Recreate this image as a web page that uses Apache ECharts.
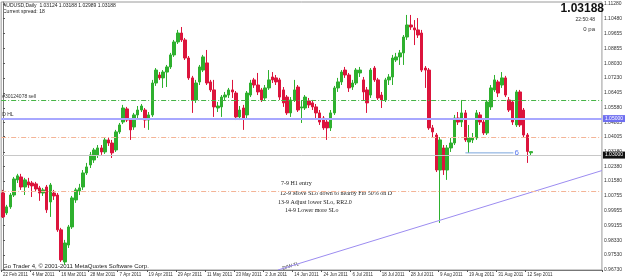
<!DOCTYPE html>
<html>
<head>
<meta charset="utf-8">
<script src="https://cdn.jsdelivr.net/npm/echarts@6/dist/echarts.min.js"></script>
<style>
  html, body { margin: 0; padding: 0; background: #fff; }
  #chart { width: 625px; height: 279px; }
</style>
</head>
<body>
<div id="chart"></div>
<script>
// AUDUSD daily, 22 Feb 2011 .. 13 Sep 2011 (one entry per bar)
var opens = [1.0092,0.9983,1.0016,1.0081,1.0164,1.0180,1.0125,1.0153,1.0147,1.0142,1.0120,1.0092,1.0125,1.0043,1.0092,1.0081,0.9890,0.9714,0.9807,0.9906,
  1.0054,1.0103,1.0125,1.0202,1.0246,1.0273,1.0301,1.0339,1.0317,1.0383,1.0366,1.0328,1.0427,1.0481,1.0553,1.0492,1.0454,1.0520,1.0547,1.0547,
  1.0492,1.0520,1.0695,1.0739,1.0723,1.0755,1.0783,1.0849,1.0920,1.0969,1.0931,1.0832,1.0723,1.0602,1.0701,1.0766,1.0805,1.0701,1.0657,1.0558,
  1.0564,1.0618,1.0629,1.0657,1.0640,1.0509,1.0558,1.0520,1.0629,1.0712,1.0684,1.0657,1.0613,1.0668,1.0728,1.0723,1.0712,1.0657,1.0618,1.0531,
  1.0602,1.0673,1.0558,1.0558,1.0597,1.0586,1.0564,1.0531,1.0503,1.0481,1.0449,1.0531,1.0668,1.0701,1.0766,1.0739,1.0673,1.0695,1.0750,1.0712,
  1.0657,1.0629,1.0777,1.0712,1.0629,1.0602,1.0712,1.0728,1.0821,1.0838,1.0860,1.0947,1.1013,1.0997,1.0986,1.0969,1.0777,1.0766,1.0449,1.0410,
  1.0218,1.0339,1.0218,1.0339,1.0366,1.0503,1.0481,1.0531,1.0372,1.0383,1.0394,1.0520,1.0481,1.0421,1.0564,1.0657,1.0701,1.0684,1.0723,1.0602,
  1.0591,1.0465,1.0646,1.0547,1.0410,1.03124];
var closes = [0.9961,1.0016,1.0081,1.0169,1.0186,1.0125,1.0164,1.0136,1.0131,1.0114,1.0092,1.0109,1.0000,1.0136,1.0076,0.9890,0.9725,0.9818,0.9906,1.0065,
  1.0109,1.0120,1.0202,1.0235,1.0301,1.0328,1.0339,1.0317,1.0383,1.0366,1.0312,1.0427,1.0465,1.0558,1.0492,1.0438,1.0520,1.0547,1.0569,1.0492,
  1.0520,1.0695,1.0766,1.0723,1.0755,1.0783,1.0849,1.0920,1.0969,1.0931,1.0832,1.0723,1.0602,1.0695,1.0783,1.0838,1.0695,1.0657,1.0564,1.0569,
  1.0618,1.0629,1.0657,1.0646,1.0509,1.0547,1.0503,1.0640,1.0695,1.0684,1.0646,1.0602,1.0668,1.0712,1.0712,1.0701,1.0618,1.0586,1.0531,1.0602,
  1.0657,1.0547,1.0564,1.0618,1.0575,1.0564,1.0531,1.0481,1.0449,1.0449,1.0531,1.0668,1.0701,1.0755,1.0739,1.0668,1.0695,1.0766,1.0766,1.0646,
  1.0586,1.0766,1.0712,1.0613,1.0602,1.0712,1.0728,1.0832,1.0838,1.0860,1.0947,1.1013,1.1002,1.0986,1.0958,1.0766,1.0766,1.0449,1.0427,1.0218,
  1.0383,1.0218,1.0339,1.0366,1.0503,1.0481,1.0531,1.0383,1.0394,1.0394,1.0531,1.0481,1.0421,1.0591,1.0668,1.0712,1.0640,1.0723,1.0629,1.0547,
  1.0481,1.0646,1.0465,1.0410,1.0320,1.03188];
var highs = [1.0109,1.0027,1.0092,1.0180,1.0197,1.0197,1.0175,1.0175,1.0158,1.0153,1.0131,1.0120,1.0136,1.0147,1.0109,1.0092,0.9901,0.9835,0.9917,1.0076,
  1.0120,1.0142,1.0218,1.0257,1.0317,1.0339,1.0355,1.0355,1.0394,1.0399,1.0383,1.0438,1.0476,1.0575,1.0564,1.0503,1.0531,1.0569,1.0580,1.0558,
  1.0536,1.0712,1.0777,1.0755,1.0766,1.0794,1.0860,1.0931,1.0986,1.1002,1.0942,1.0843,1.0734,1.0712,1.0794,1.0849,1.0876,1.0712,1.0712,1.0591,
  1.0629,1.0646,1.0668,1.0712,1.0651,1.0569,1.0575,1.0651,1.0712,1.0723,1.0750,1.0668,1.0684,1.0766,1.0755,1.0739,1.0723,1.0673,1.0629,1.0618,
  1.0712,1.0684,1.0602,1.0629,1.0613,1.0602,1.0580,1.0547,1.0514,1.0503,1.0547,1.0679,1.0723,1.0766,1.0783,1.0750,1.0712,1.0777,1.0783,1.0728,
  1.0673,1.0777,1.0788,1.0723,1.0646,1.0723,1.0744,1.0849,1.0860,1.0876,1.0958,1.1068,1.1068,1.1040,1.1051,1.0986,1.0788,1.0777,1.0465,1.0421,
  1.0399,1.0355,1.0355,1.0394,1.0520,1.0536,1.0602,1.0547,1.0465,1.0421,1.0547,1.0536,1.0492,1.0602,1.0684,1.0739,1.0712,1.0755,1.0734,1.0618,
  1.0602,1.0657,1.0657,1.0558,1.0421,1.03188];
var lows = [0.9955,0.9972,1.0005,1.0070,1.0147,1.0109,1.0081,1.0120,1.0070,1.0098,1.0049,1.0076,0.9983,0.9961,1.0054,0.9879,0.9714,0.9698,0.9791,0.9895,
  1.0038,1.0081,1.0109,1.0191,1.0229,1.0257,1.0284,1.0301,1.0306,1.0350,1.0284,1.0317,1.0416,1.0470,1.0481,1.0383,1.0438,1.0503,1.0536,1.0449,
  1.0438,1.0509,1.0679,1.0712,1.0668,1.0673,1.0772,1.0838,1.0909,1.0920,1.0821,1.0712,1.0531,1.0586,1.0684,1.0755,1.0684,1.0646,1.0509,1.0536,
  1.0509,1.0602,1.0613,1.0613,1.0492,1.0492,1.0438,1.0503,1.0618,1.0668,1.0629,1.0591,1.0602,1.0657,1.0695,1.0684,1.0602,1.0564,1.0520,1.0509,
  1.0591,1.0536,1.0476,1.0547,1.0558,1.0547,1.0503,1.0465,1.0438,1.0383,1.0432,1.0520,1.0646,1.0684,1.0723,1.0646,1.0657,1.0684,1.0728,1.0602,
  1.0531,1.0613,1.0701,1.0602,1.0558,1.0591,1.0684,1.0684,1.0810,1.0794,1.0794,1.0931,1.0986,1.0903,1.0942,1.0755,1.0668,1.0438,1.0399,1.0207,
  0.9928,1.0191,1.0164,1.0317,1.0355,1.0465,1.0454,1.0372,1.0312,1.0366,1.0383,1.0465,1.0410,1.0410,1.0547,1.0646,1.0618,1.0668,1.0618,1.0536,
  1.0465,1.0454,1.0454,1.0399,1.0257,1.02989];

// date labels, one every 8 bars starting with bar 0
var dateLabels = ['22 Feb 2011','4 Mar 2011','16 Mar 2011','28 Mar 2011','7 Apr 2011','19 Apr 2011','29 Apr 2011',
  '11 May 2011','23 May 2011','2 Jun 2011','14 Jun 2011','24 Jun 2011','6 Jul 2011','18 Jul 2011','28 Jul 2011',
  '9 Aug 2011','19 Aug 2011','31 Aug 2011','12 Sep 2011'];
var priceTicks = [1.11280,1.10480,1.09655,1.08855,1.08030,1.07230,1.06405,1.05580,1.04805,1.04005,1.03180,
  1.02380,1.01580,1.00755,0.99955,0.99155,0.98330,0.97530,0.96730];

// horizontal levels
var sellLevel = 1.0602;
var dhlLevel = 1.0547;
var fibUpper = 1.0383;
var fibLower = 1.0114;
var bidPrice = 1.03188;
// D/W trend line and wave-6 line (bar index, price)
var trendLine = [[75.5, 0.9670], [164.5, 1.0215]];
var waveLine = [[127, 1.0312], [140.2, 1.0312]];

var barsShown = 165; // includes empty shift area at the right
var cats = [];
for (var i = 0; i < barsShown; i++) cats.push(String(i));
var candles = opens.map(function (o, i) { return [o, closes[i], lows[i], highs[i]]; });

var bull = '#2eb02e', bear = '#dc143c';
var smallFont = '"Liberation Sans", Arial, sans-serif';
var serifFont = '"Liberation Serif", "DejaVu Serif", serif';
function isDateTick(i) { return i % 8 === 0 && i < opens.length; }
function priceLabel(p) { return p.value.toFixed(5); }

var myChart = echarts.init(document.getElementById('chart'));
var option = {
  animation: false,
  backgroundColor: '#fff',
  grid: { left: 1, right: 18, top: 2, bottom: 9, show: true, borderColor: '#9a9a9a', borderWidth: 1 },
  xAxis: [
    {
      type: 'category', data: cats, boundaryGap: true,
      axisLine: { lineStyle: { color: '#777' } },
      axisTick: { show: true, interval: isDateTick, length: 2, lineStyle: { color: '#555' } },
      axisLabel: {
        interval: isDateTick, showMinLabel: true, hideOverlap: false,
        formatter: function (v, i) { return dateLabels[i / 8] || ''; },
        align: 'left', margin: 2, fontSize: 4.5, color: '#333', fontFamily: smallFont
      },
      splitLine: { show: false }
    },
    { type: 'value', min: -0.5, max: barsShown - 0.5, show: false }
  ],
  yAxis: {
    type: 'value', position: 'right', min: 0.9670, max: 1.1139,
    axisLine: { show: true, lineStyle: { color: '#777' } },
    axisTick: { show: true, customValues: priceTicks, length: 2, lineStyle: { color: '#555' } },
    axisLabel: {
      customValues: priceTicks, margin: 2, fontSize: 5, color: '#333', fontFamily: smallFont,
      formatter: function (v) { return v.toFixed(5); }
    },
    splitLine: { show: false }
  },
  series: [
    {
      type: 'candlestick', xAxisIndex: 0, data: candles, barWidth: 3,
      itemStyle: { color: bull, color0: bear, borderColor: bull, borderColor0: bear, borderWidth: 1 },
      markLine: {
        silent: true, symbol: 'none', animation: false,
        data: [
          { yAxis: sellLevel, lineStyle: { color: '#46b446', type: [5, 2, 1, 2], width: 1 },
            label: { show: true, position: 'insideStartTop', formatter: '#30124078 sell', fontSize: 5, color: '#333', distance: 1, fontFamily: smallFont } },
          { yAxis: fibUpper, lineStyle: { color: '#f4b496', type: [5, 2, 1, 2], width: 1 }, label: { show: false } },
          { yAxis: fibLower, lineStyle: { color: '#f4b496', type: [5, 2, 1, 2], width: 1 }, label: { show: false } },
          { yAxis: bidPrice, lineStyle: { color: '#c8c8c8', type: 'solid', width: 1 },
            label: { show: true, position: 'end', formatter: priceLabel, fontSize: 5, color: '#fff',
              backgroundColor: '#111', padding: [1, 2], distance: 1, fontFamily: smallFont } }
        ]
      }
    },
    {
      type: 'line', xAxisIndex: 1, data: trendLine, symbol: 'none', silent: true,
      lineStyle: { color: '#9c8cf0', width: 1 },
      markLine: {
        silent: true, symbol: 'none', animation: false,
        data: [
          { yAxis: dhlLevel, lineStyle: { color: '#a8a8ff', type: 'solid', width: 2 },
            label: { show: true, position: 'insideStartTop', formatter: 'D HL', fontSize: 5, color: '#333', distance: 1, fontFamily: smallFont } },
          { yAxis: dhlLevel, lineStyle: { color: '#a8a8ff', width: 2 },
            label: { show: true, position: 'end', formatter: priceLabel, fontSize: 5, color: '#fff',
              backgroundColor: '#6f6ff0', padding: [1, 2], distance: 1, fontFamily: smallFont } }
        ]
      }
    },
    {
      type: 'line', xAxisIndex: 1, data: waveLine, symbol: 'none', silent: true,
      lineStyle: { color: '#7aa6dc', width: 1 },
      endLabel: { show: true, formatter: '6', color: '#5577ee', fontSize: 8, distance: 1 }
    }
  ],
  graphic: [
    { type: 'text', left: 3, top: 3, style: { text: 'AUDUSD,Daily  1.03124 1.03188 1.02989 1.03188', fill: '#222', font: '5px ' + smallFont } },
    { type: 'text', left: 3, top: 9, style: { text: 'Current spread: 18', fill: '#222', font: '5px ' + smallFont } },
    { type: 'text', right: 21, top: 3, style: { text: '1.03188', fill: '#111', font: 'bold 12px Arial, "Liberation Sans", sans-serif' } },
    { type: 'text', right: 30, top: 17, style: { text: '22:50:48', fill: '#333', font: '5px ' + smallFont } },
    { type: 'text', right: 30, top: 26, style: { text: '0 pa', fill: '#333', font: '6px ' + smallFont } },
    { type: 'text', left: 3, top: 263, style: { text: 'Go Trader 4, \u00a9 2001-2011 MetaQuotes Software Corp.', fill: '#222', font: '6px ' + smallFont } },
    { type: 'text', left: 281, top: 180, style: { text: '7-9 H1 entry', fill: '#222', font: '6px ' + serifFont } },
    { type: 'text', left: 280, top: 190, style: { text: '12-9 Move SLo down to nearby Fib 50% on D', fill: '#222', font: '6px ' + serifFont } },
    { type: 'text', left: 278, top: 199, style: { text: '13-9 Adjust lower SLo, RR2.0', fill: '#222', font: '6px ' + serifFont } },
    { type: 'text', left: 285, top: 207, style: { text: '14-9 Lower more SLo', fill: '#222', font: '6px ' + serifFont } },
    { type: 'text', x: 282, y: 266, rotation: 0.29, style: { text: 'D/W TL', fill: '#333', font: '5px ' + smallFont } }
  ]
};
myChart.setOption(option);
</script>
</body>
</html>
